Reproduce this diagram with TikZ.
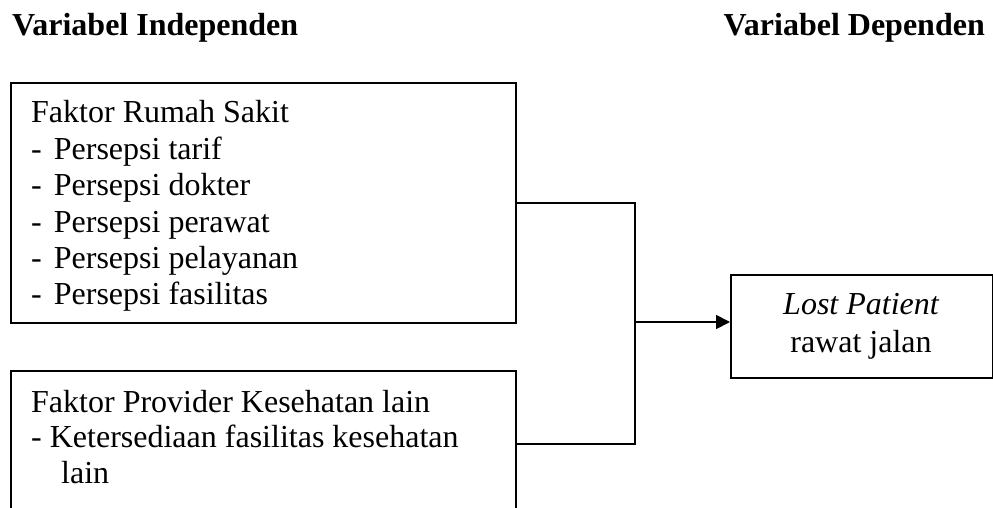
\documentclass[tikz,border=0pt]{standalone}
\usepackage{fontspec}
\setmainfont{Liberation Serif}
\usetikzlibrary{arrows.meta}
\begin{document}
\begin{tikzpicture}[x=1pt,y=-1pt,
  box/.style={draw, line width=1.7pt, rectangle, inner sep=0pt, anchor=north west},
  txt/.style={anchor=base west, inner sep=0pt, font=\fontsize{32}{38}\selectfont},
  ctxt/.style={anchor=base, inner sep=0pt, font=\fontsize{32}{38}\selectfont},
  head/.style={anchor=base west, inner sep=0pt, font=\fontsize{32}{38}\selectfont\bfseries},
  conn/.style={line width=1.7pt}]
\useasboundingbox (0,0) rectangle (993,508);
\fill[white] (0,0) rectangle (993,508);
% headings
\node[head] (h1) at (12,36) {Variabel Independen};
\node[head, anchor=base east] (h2) at (985,36) {Variabel Dependen};
% boxes
\node[box, minimum width=505pt, minimum height=240pt] (b1) at (10,82) {};
\node[box, minimum width=505pt, minimum height=146pt] (b2) at (10,370) {};
\node[box, minimum width=262pt, minimum height=103pt] (b3) at (730,274) {};
% box 1 text
\node[txt] (t10) at (31,123) {Faktor Rumah Sakit};
\node[txt] (t11) at (31,159) {-\hspace{12pt}Persepsi tarif};
\node[txt] (t12) at (31,195) {-\hspace{12pt}Persepsi dokter};
\node[txt] (t13) at (31,232) {-\hspace{12pt}Persepsi perawat};
\node[txt] (t14) at (31,268) {-\hspace{12pt}Persepsi pelayanan};
\node[txt] (t15) at (31,304) {-\hspace{12pt}Persepsi fasilitas};
% box 2 text
\node[txt] (t20) at (31,412) {Faktor Provider Kesehatan lain};
\node[txt] (t21) at (31,447) {- Ketersediaan fasilitas kesehatan};
\node[txt] (t22) at (61,483) {lain};
% box 3 text
\node[ctxt] (t30) at (861,314) {\itshape Lost Patient};
\node[ctxt] (t31) at (861,352) {rawat jalan};
% connectors
\coordinate (j) at (635,322);
\draw[conn] (b1.east) -| (j);
\draw[conn] (b2.east) -| (j);
\draw[conn, -{Triangle[length=14pt,width=14pt]}] (j) -- (j -| b3.west);
\end{tikzpicture}
\end{document}
